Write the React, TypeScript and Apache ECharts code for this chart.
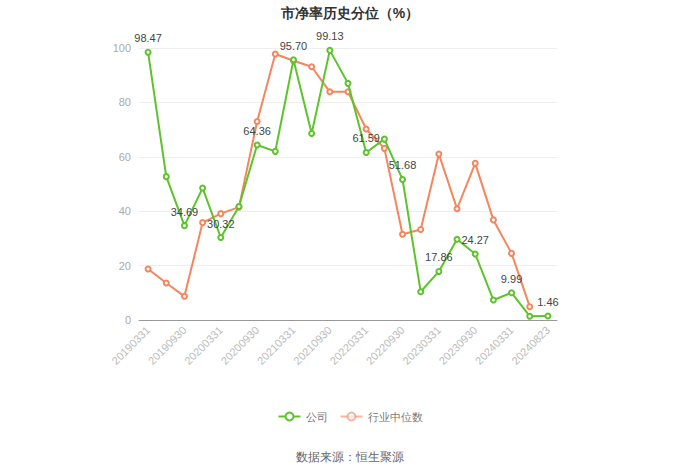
import React, { useEffect, useRef } from "react";
import * as echarts from "echarts";

const categories = [
  "20190331", "20190630", "20190930", "20191231",
  "20200331", "20200630", "20200930", "20201231",
  "20210331", "20210630", "20210930", "20211231",
  "20220331", "20220630", "20220930", "20221231",
  "20230331", "20230630", "20230930", "20231231",
  "20240331", "20240630", "20240823",
];

const companyValues = [
  98.47, 52.7, 34.69, 48.5, 30.32, 41.7, 64.36, 62.0, 95.7, 68.6, 99.13, 87.0,
  61.59, 66.5, 51.68, 10.4, 17.86, 29.7, 24.27, 7.35, 9.99, 1.4, 1.46,
];

const industryValues: (number | null)[] = [
  18.75, 13.6, 8.7, 35.8, 39.1, 41.5, 73.0, 97.8, 95.3, 93.1, 83.9, 83.9,
  70.2, 63.1, 31.5, 33.3, 61.0, 40.9, 57.6, 36.8, 24.5, 4.9, null,
];

const yTicks = { min: 0, max: 100, interval: 20 };

export default function App() {
  const ref = useRef<HTMLDivElement>(null);
  useEffect(() => {
    if (!ref.current) return;
    const chart = echarts.init(ref.current, undefined, { renderer: "svg" });
    chart.setOption({
      animation: false,
      title: {
        text: "市净率历史分位（%）",
        left: "center",
        top: 1,
        textStyle: { fontSize: 14, fontWeight: "bold", color: "#333" },
      },
      legend: {
        bottom: 47,
        left: "center",
        itemWidth: 22,
        itemHeight: 10,
        itemGap: 12,
        textStyle: { color: "#777", fontSize: 11 },
        data: [
          { name: "公司" },
          { name: "行业中位数", itemStyle: { opacity: 0.6 }, lineStyle: { opacity: 0.6 } },
        ],
      },
      graphic: [
        {
          type: "text",
          left: "center",
          top: 451,
          style: { text: "数据来源：恒生聚源", fill: "#666", fontSize: 12 },
        },
      ],
      grid: { left: 139, right: 143, top: 48, bottom: 154 },
      xAxis: {
        type: "category",
        data: categories,
        boundaryGap: true,
        axisTick: { alignWithLabel: true, interval: 1, lineStyle: { color: "#999" } },
        axisLine: { lineStyle: { color: "#999" } },
        axisLabel: { interval: 1, rotate: 45, color: "#bbb", fontSize: 11 },
      },
      yAxis: {
        type: "value",
        min: yTicks.min,
        max: yTicks.max,
        interval: yTicks.interval,
        axisLabel: { color: "#aaa", fontSize: 11 },
        splitLine: { lineStyle: { color: "#eee" } },
        axisLine: { show: false },
        axisTick: { show: false },
      },
      series: [
        {
          name: "公司",
          type: "line",
          data: companyValues,
          symbol: "emptyCircle",
          symbolSize: 5,
          itemStyle: { color: "#5cc42a", borderWidth: 1.5 },
          lineStyle: { width: 2, color: "#5cc42a" },
          label: {
            show: true,
            position: "top",
            color: "#444",
            fontSize: 11,
            formatter: (p: any) => (p.dataIndex % 2 === 0 ? p.value.toFixed(2) : ""),
          },
          z: 3,
        },
        {
          name: "行业中位数",
          type: "line",
          data: industryValues,
          symbol: "emptyCircle",
          symbolSize: 5,
          itemStyle: { color: "#f5855d", borderWidth: 1.5 },
          lineStyle: { width: 2, color: "#f5855d" },
          z: 2,
        },
      ],
    });
    return () => chart.dispose();
  }, []);
  return (
    <div
      ref={ref}
      style={{ position: "absolute", left: 0, top: 0, width: 700, height: 474 }}
    />
  );
}
